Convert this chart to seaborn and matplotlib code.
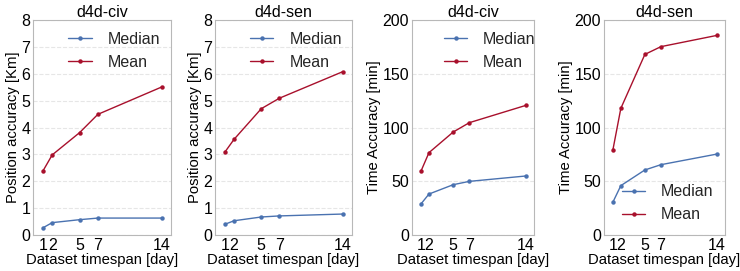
import numpy as np
import pandas as pd
import matplotlib.pyplot as plt
import seaborn as sns

sns.set_style("whitegrid", {"grid.linestyle": "--", "grid.color": "#e6e6e6",
                            "axes.edgecolor": "#b8b8b8"})
plt.rcParams['font.family'] = ['Liberation Sans', 'DejaVu Sans']

days = [1, 2, 5, 7, 14]

# position accuracy [Km]
pos_civ_median = [0.27, 0.46, 0.57, 0.63, 0.63]
pos_civ_mean = [2.39, 2.98, 3.81, 4.49, 5.51]
pos_sen_median = [0.40, 0.53, 0.67, 0.71, 0.78]
pos_sen_mean = [3.09, 3.56, 4.70, 5.09, 6.08]

# time accuracy [min]
time_civ_median = [28.8, 38.1, 46.8, 49.9, 54.9]
time_civ_mean = [59.2, 76.6, 95.8, 104.5, 120.6]
time_sen_median = [30.4, 45.9, 60.5, 65.4, 75.3]
time_sen_mean = [78.8, 117.8, 168.0, 175.2, 185.7]

titles = ["d4d-civ", "d4d-sen", "d4d-civ", "d4d-sen"]
ylabels = ["Position accuracy [Km]", "Position accuracy [Km]",
           "Time Accuracy [min]", "Time Accuracy [min]"]
medians = [pos_civ_median, pos_sen_median, time_civ_median, time_sen_median]
means = [pos_civ_mean, pos_sen_mean, time_civ_mean, time_sen_mean]
ylims = [(0, 8), (0, 8), (0, 200), (0, 200)]
yticks = [range(0, 9), range(0, 9), range(0, 201, 50), range(0, 201, 50)]

blue = "#4a72b0"
red = "#a8102c"

fig = plt.figure(figsize=(7.4, 2.71), dpi=100)
W, H = 740, 271
boxes = [(33, 171), (215, 352), (412, 534), (604, 725)]
top, bottom = 20, 235

for i in range(4):
    l, r = boxes[i]
    ax = fig.add_axes([l / W, 1 - bottom / H, (r - l) / W, (bottom - top) / H])
    sns.lineplot(x=days, y=medians[i], ax=ax, color=blue, marker="o",
                 markersize=3.2, markeredgewidth=0, linewidth=1.0, label="Median")
    sns.lineplot(x=days, y=means[i], ax=ax, color=red, marker="o",
                 markersize=3.2, markeredgewidth=0, linewidth=1.0, label="Mean")
    ax.set_xlim(-0.1, 15)
    ax.set_ylim(*ylims[i])
    ax.set_yticks(list(yticks[i]))
    ax.set_xticks([1, 2, 5, 7, 14])
    ax.set_xticklabels(["1", "2", "5", "7", "14"])
    ax.xaxis.grid(False)
    ax.tick_params(labelsize=11.5, pad=2, length=2.5, width=0.6,
                   direction="in", color="#b8b8b8", labelcolor="black")
    ax.set_title(titles[i], fontsize=11.5, pad=2, color="black")
    ax.set_ylabel(ylabels[i], fontsize=10.7, labelpad=1, color="black")
    ax.set_xlabel("Dataset timespan [day]", fontsize=10.7, labelpad=0, color="black")
    if i < 3:
        ax.legend(loc="upper left", frameon=False, fontsize=11.5,
                  bbox_to_anchor=(0.21, 0.975), borderaxespad=0,
                  handlelength=1.45, handletextpad=1.0)
    else:
        ax.legend(loc="lower left", frameon=False, fontsize=11.5,
                  bbox_to_anchor=(0.096, 0.03), borderaxespad=0,
                  handlelength=1.45, handletextpad=1.0)

fig.savefig("out.png", dpi=100)
